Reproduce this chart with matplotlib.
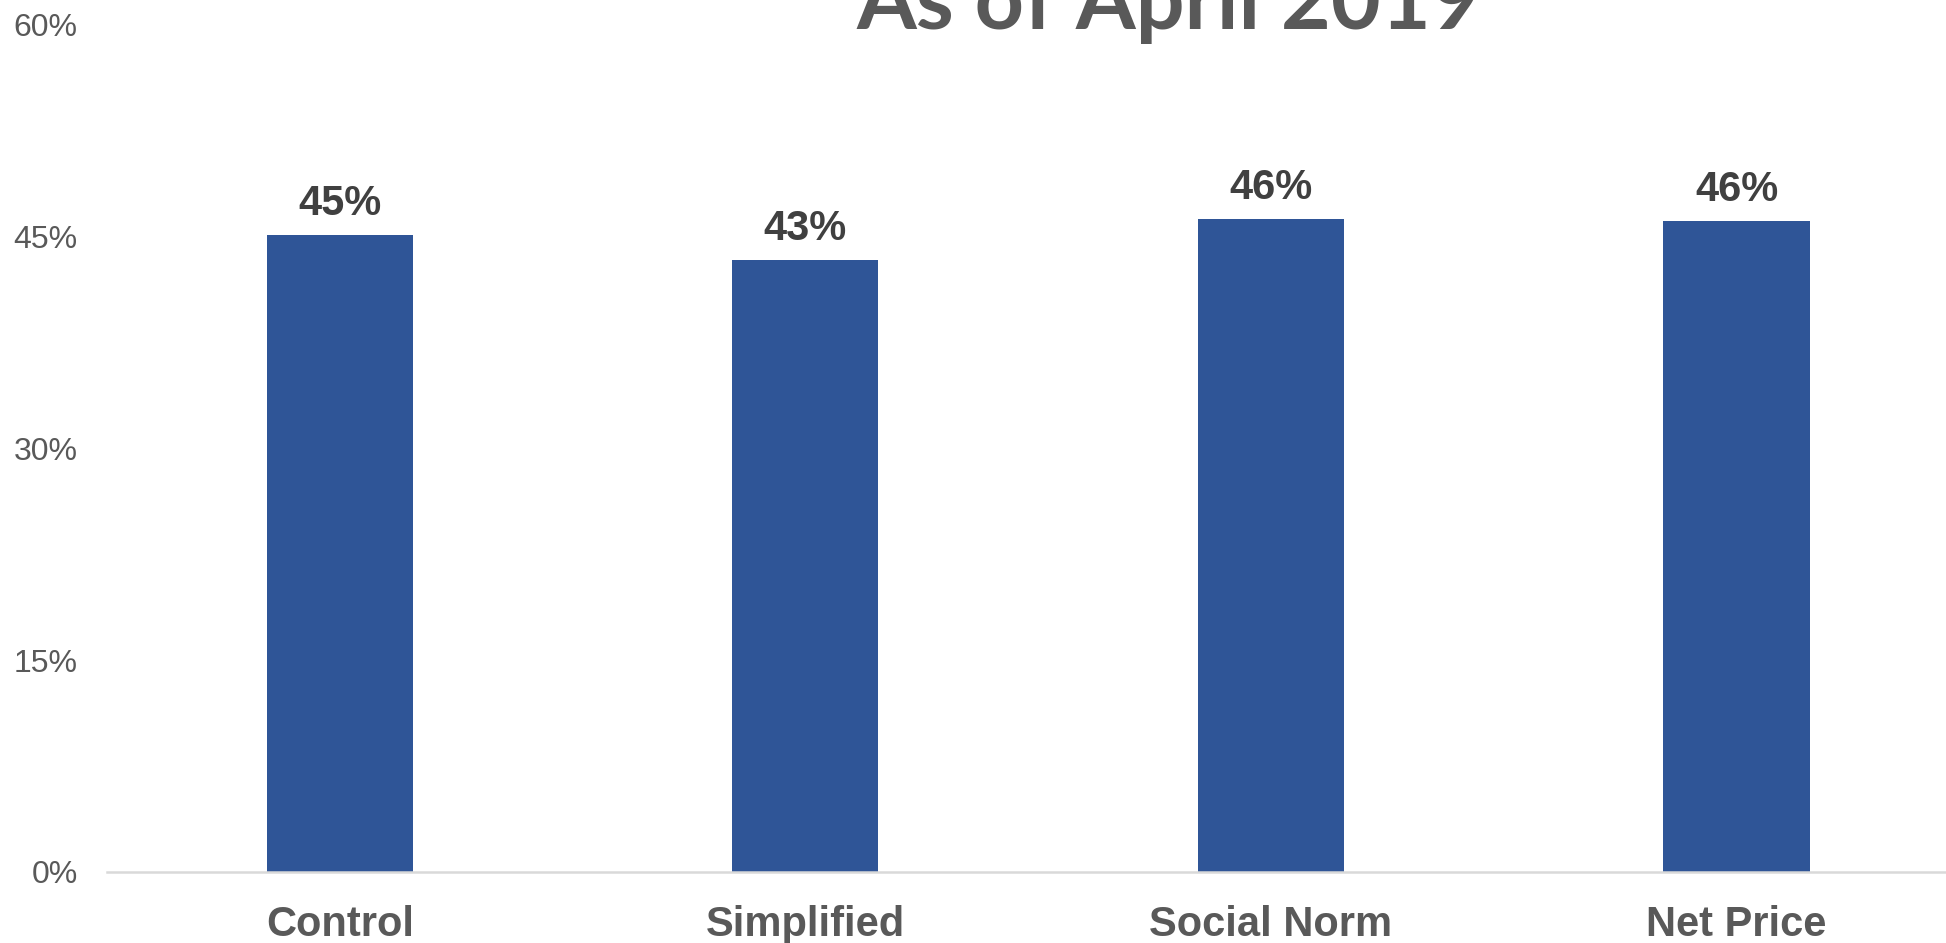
import matplotlib.pyplot as plt
from matplotlib.ticker import FuncFormatter

categories = ['Control', 'Simplified', 'Social Norm', 'Net Price']
values = [45.1, 43.3, 46.2, 46.1]
y_ticks = [0, 15, 30, 45, 60]

bar_color = '#2F5597'
text_grey = '#595959'
label_grey = '#404040'

plt.rcParams['font.family'] = ['Liberation Sans', 'DejaVu Sans']

fig = plt.figure(figsize=(19.46, 9.43), dpi=100)
# plot area runs a little past the right edge of the canvas
ax = fig.add_axes([0.055, 0.0753, 0.957, 0.899])

x = range(len(categories))
bars = ax.bar(x, values, width=0.314, color=bar_color, zorder=3)
ax.bar_label(bars, labels=[f'{v:.0f}%' for v in values], padding=8,
             fontsize=30, fontweight='bold', color=label_grey)

ax.set_xlim(-0.5, len(categories) - 0.5)
ax.set_ylim(0, 60)
ax.set_yticks(y_ticks)
ax.yaxis.set_major_formatter(FuncFormatter(lambda v, _: f'{v:.0f}%'))
ax.set_xticks(list(x))
ax.set_xticklabels(categories, fontsize=30, fontweight='bold', color=text_grey)
ax.tick_params(axis='y', length=0, pad=21, labelsize=23, labelcolor=text_grey)
ax.tick_params(axis='x', length=0, pad=24)

for side in ['top', 'right', 'left']:
    ax.spines[side].set_visible(False)
ax.spines['bottom'].set_color('#D9D9D9')
ax.spines['bottom'].set_linewidth(1.8)
ax.spines['bottom'].set_zorder(4)

fig.text(1169 / 1946, 1 - 29 / 943, 'As of April 2019', ha='center', va='baseline',
         fontsize=62, fontweight='bold', color=text_grey, family=['Lato', 'DejaVu Sans'])

fig.savefig('out.png', dpi=100)
